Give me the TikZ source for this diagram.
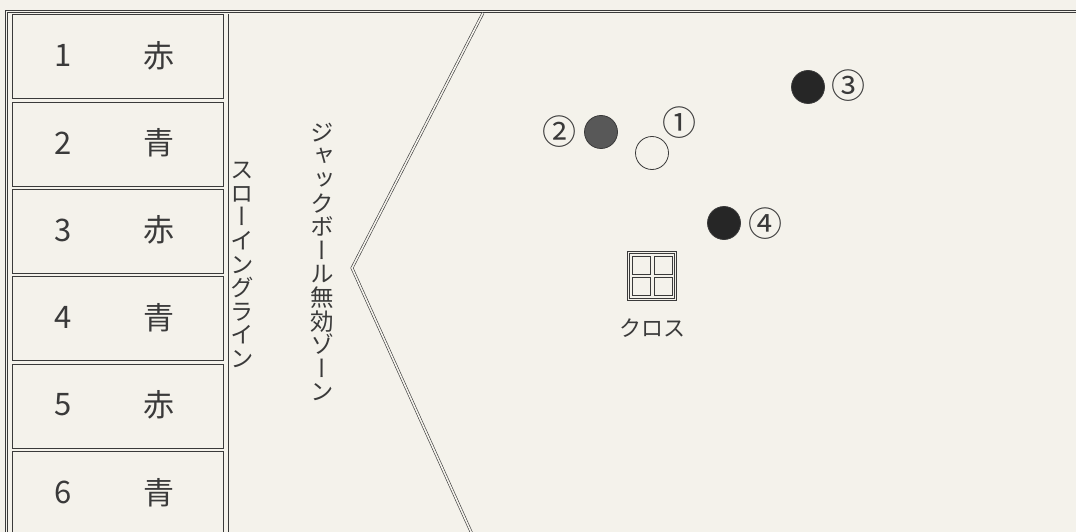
\documentclass[tikz,border=0pt]{standalone}
\usepackage{fontspec}
\setmainfont{Noto Sans CJK JP}
\newfontfamily\jp{Noto Sans CJK JP}
\newfontfamily\vjp[RawFeature={+vert}]{Noto Sans CJK JP}
\definecolor{paper}{HTML}{F4F2EB}
\definecolor{ink}{HTML}{3A3A3A}
\definecolor{ballgray}{HTML}{585858}
\tikzset{
  thin line/.style={draw=ink, line width=0.7pt},
  dbl line/.style={draw=ink, line width=0.6pt, double=paper, double distance=1.6pt},
  cellbox/.style={thin line},
  numtext/.style={text=ink, font=\jp\fontsize{31}{31}\selectfont, inner sep=0pt},
  kanjitext/.style={text=ink, font=\jp\fontsize{31}{31}\selectfont, inner sep=0pt},
  vtext/.style={text=ink, font=\vjp\fontsize{23.5}{23.6}\selectfont, inner sep=0pt, align=center},
  ball/.style={circle, minimum size=33pt, inner sep=0pt, line width=0.8pt, draw=ink},
  ballno/.style={text=ink, font=\jp\fontsize{34}{34}\selectfont, inner sep=0pt},
  label text/.style={text=ink, font=\jp\fontsize{22}{22}\selectfont, inner sep=0pt},
}
\begin{document}
\begin{tikzpicture}[x=1pt,y=-1pt]
\fill[paper] (0,0) rectangle (1076,532);
\useasboundingbox (0,0) rectangle (1076,532);
% outer frame (top and left), double lines
\coordinate (tl) at (6.5,11.5);
\coordinate (tr) at (1076,11.5);
\coordinate (bl) at (6.5,532);
\draw[dbl line] (bl) -- (tl) -- (tr);
% boxes
\foreach \i/\n/\c in {0/1/赤,1/2/青,2/3/赤,3/4/青,4/5/赤,5/6/青}{
  \pgfmathsetmacro{\t}{14.5+87.4*\i}
  \pgfmathsetmacro{\b}{\t+84}
  \draw[cellbox] (12,\t) rectangle (223,\b);
  \node[numtext] (num\n) at (63,\t+41) {\n};
  \node[kanjitext] (col\n) at (159,\t+41) {\c};
}
% throwing line
\coordinate (thrTop) at (228,14);
\coordinate (thrBot) at (228,532);
\draw[thin line] (thrTop) -- (thrBot);
% jack ball invalid zone boundary
\coordinate (zA) at (483,13);
\coordinate (zB) at (352,268);
\coordinate (zC) at (472,534);
\draw[dbl line] (zA) -- (zB) -- (zC);
% vertical labels
\node[vtext] (throwing) at (242,265) {ス\\ロ\\ー\\イ\\ン\\グ\\ラ\\イ\\ン};
\node[vtext] (zone) at (322,262) {ジ\\ャ\\ッ\\ク\\ボ\\ー\\ル\\無\\効\\ゾ\\ー\\ン};
% balls
\node[ball, fill=paper] (b1) at (652,153) {};
\node[ball, fill=ballgray] (b2) at (601,132) {};
\node[ball, fill=black!85] (b3) at (808,87) {};
\node[ball, fill=black!85] (b4) at (724,223) {};
\node[ballno] (l1) at (679,123) {①};
\node[ballno] (l2) at (559,132) {②};
\node[ballno] (l3) at (848,86) {③};
\node[ballno] (l4) at (765,224) {④};
% cross
\draw[thin line, line width=0.6pt] (627.5,251) rectangle (676.5,300);
\draw[thin line, line width=0.6pt] (629.5,253) rectangle (674.5,298);
\draw[thin line] (632.5,256) rectangle (650.5,274.5);
\draw[thin line] (654.5,256) rectangle (672,274.5);
\draw[thin line] (632.5,277.5) rectangle (650.5,295.5);
\draw[thin line] (654.5,277.5) rectangle (672,295.5);
\node[label text] (cross) at (652,328) {クロス};
\end{tikzpicture}
\end{document}
